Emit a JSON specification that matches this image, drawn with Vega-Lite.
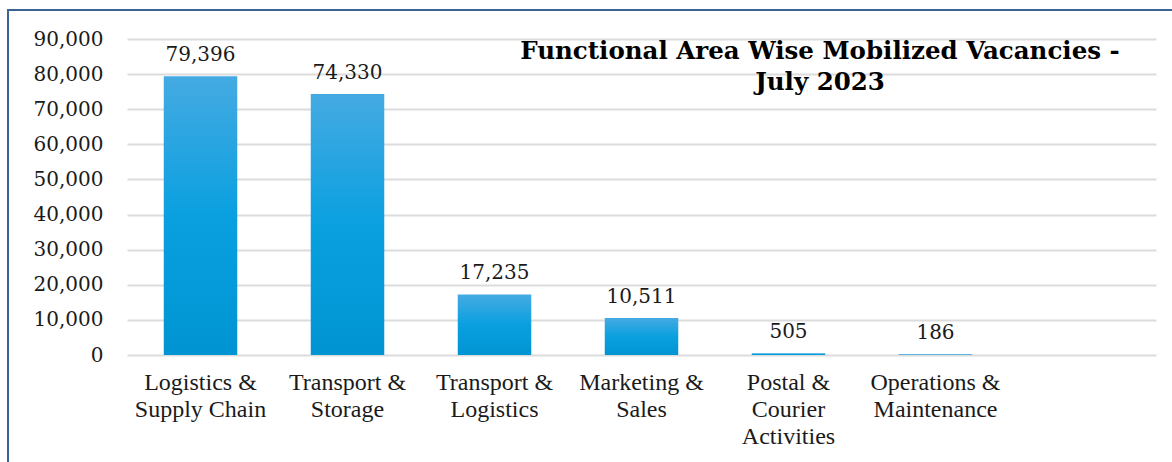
{
  "$schema": "https://vega.github.io/schema/vega-lite/v6.json",
  "autosize": "none",
  "padding": {"left": 8, "top": 10, "right": 0, "bottom": 0},
  "width": 1166,
  "height": 456,
  "background": "#ffffff",
  "config": {
    "view": {"stroke": "#3b6494", "strokeWidth": 2},
    "font": "DejaVu Serif"
  },
  "title": {
    "text": ["Functional Area Wise Mobilized Vacancies -", "July 2023"],
    "anchor": "middle",
    "frame": "group",
    "orient": "top",
    "offset": 0,
    "dx": 229,
    "dy": 104,
    "baseline": "alphabetic",
    "font": "DejaVu Serif",
    "fontSize": 24.5,
    "fontWeight": "bold",
    "color": "#000000",
    "lineHeight": 31
  },
  "data": {
    "values": [
      {"area": "Logistics & Supply Chain", "vacancies": 79396},
      {"area": "Transport & Storage", "vacancies": 74330},
      {"area": "Transport & Logistics", "vacancies": 17235},
      {"area": "Marketing & Sales", "vacancies": 10511},
      {"area": "Postal & Courier Activities", "vacancies": 505},
      {"area": "Operations & Maintenance", "vacancies": 186}
    ]
  },
  "encoding": {
    "x": {
      "field": "area",
      "type": "nominal",
      "sort": null,
      "title": null,
      "scale": {"range": [119, 1148], "paddingInner": 0.5, "paddingOuter": 0.75, "align": 0.1667},
      "axis": {
        "orient": "bottom",
        "offset": -111,
        "domain": false,
        "ticks": false,
        "grid": false,
        "labelAngle": 0,
        "labelPadding": 15,
        "labelBaseline": "top",
        "labelFont": "Liberation Serif",
        "labelFontSize": 24,
        "labelLineHeight": 27,
        "labelColor": "#1a1a1a",
        "labelOverlap": false,
        "labelLimit": 300,
        "labelExpr": "datum.label == 'Postal & Courier Activities' ? ['Postal &', 'Courier', 'Activities'] : split(replace(datum.label, '& ', '&|'), '|')"
      }
    },
    "y": {
      "field": "vacancies",
      "type": "quantitative",
      "title": null,
      "scale": {"domain": [0, 90000], "range": [345, 29], "nice": false},
      "axis": {
        "orient": "left",
        "offset": -95,
        "values": [0, 10000, 20000, 30000, 40000, 50000, 60000, 70000, 80000, 90000],
        "format": ",d",
        "domain": false,
        "ticks": false,
        "grid": true,
        "gridColor": "#dcdcdc",
        "gridWidth": 2,
        "labelPadding": 0,
        "labelAlign": "right",
        "labelFont": "DejaVu Serif",
        "labelFontSize": 20,
        "labelColor": "#1a1a1a"
      }
    }
  },
  "layer": [
    {
      "mark": {
        "type": "bar",
        "color": {
          "gradient": "linear",
          "x1": 0, "y1": 0, "x2": 0, "y2": 1,
          "stops": [
            {"offset": 0, "color": "#45aae2"},
            {"offset": 0.5, "color": "#0aa0e0"},
            {"offset": 1, "color": "#0094d2"}
          ]
        }
      }
    },
    {
      "mark": {"type": "text", "baseline": "alphabetic", "dy": -15, "font": "DejaVu Serif", "fontSize": 20, "color": "#1a1a1a"},
      "encoding": {
        "text": {"field": "vacancies", "type": "quantitative", "format": ",d"}
      }
    }
  ]
}
